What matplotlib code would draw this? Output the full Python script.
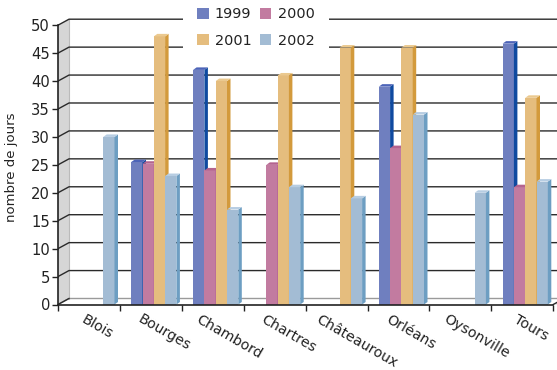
import numpy as np
import matplotlib
matplotlib.use('Agg')
import matplotlib.pyplot as plt
import matplotlib.transforms as mtransforms
from matplotlib.patches import Polygon, Patch

villes = ['Blois', 'Bourges', 'Chambord', 'Chartres', 'Châteauroux',
          'Orléans', 'Oysonville', 'Tours']
annees = ['1999', '2000', '2001', '2002']
v1999 = [np.nan, 25.5, 42, np.nan, np.nan, 39, np.nan, 46.7]
v2000 = [np.nan, 25.2, 24, 25, np.nan, 28, np.nan, 21]
v2001 = [np.nan, 48, 40, 41, 46, 46, np.nan, 37]
v2002 = [30, 23, 17, 21, 19, 34, 20, 22]
series = [v1999, v2000, v2001, v2002]

# front, side, top colours per year
front = ['#6f7fbf', '#c27ba0', '#e5bd7e', '#a3bcd4']
side = ['#0f4aa0', '#a9558a', '#d39a3c', '#6d9ec2']
top = ['#4d64b8', '#b4648f', '#ebc98f', '#b7cde2']
txt = '#222222'

W, H = 557, 370
fig = plt.figure(figsize=(W / 100, H / 100), dpi=100)
x0px, y0px = 58, 304.5
XPX, YPX = 61.9, 5.586  # pixels per category / per day
ax = fig.add_axes([x0px / W, (H - y0px) / H, (W - x0px) / W, y0px / H])
xmax = (W - x0px) / XPX
ax.set_xlim(0, xmax)
ax.set_ylim(0, y0px / YPX)
n = len(villes)

# pseudo 3d walls
wx, wy = 11 / XPX, 6 / YPX
ax.add_patch(Polygon([(0, 0), (wx, wy), (wx, 50 + wy), (0, 50)],
                     closed=True, facecolor='#d6d6d6', edgecolor='none', zorder=0.5))
ax.add_patch(Polygon([(0, 0), (n, 0), (n + wx, wy), (xmax + 1, wy), (xmax + 1, 0)],
                     closed=True, facecolor='#d9d9d9', edgecolor='none', zorder=0.5))
ax.plot([wx, wx], [wy, 50 + wy], color='#bbbbbb', lw=0.8, zorder=0.8)
for v in range(0, 51, 5):
    c = '#9a9a9a' if v == 0 else '#2a2a2a'
    ax.plot([0, wx, xmax], [v, v + wy, v + wy], color=c, lw=1.0, zorder=1)
ax.plot([0, wx], [0, wy], color='#2a2a2a', lw=1.0, zorder=1)
ax.plot([n, n + wx], [0, wy], color='#2a2a2a', lw=1.0, zorder=1)

# bars
bw = 11.3 / XPX
bx, by = 3.5 / XPX, 2.5 / YPX
for i in range(n):
    for j, vals in enumerate(series):
        h = vals[i]
        if np.isnan(h):
            continue
        xl = i + bw + j * bw
        xr = xl + bw
        ax.add_patch(Polygon([(xl, 0), (xr, 0), (xr, h), (xl, h)],
                             facecolor=front[j], edgecolor='none', zorder=3))
        ax.add_patch(Polygon([(xr, 0), (xr + bx, by), (xr + bx, h + by), (xr, h)],
                             facecolor=side[j], edgecolor='none', zorder=3))
        ax.add_patch(Polygon([(xl, h), (xr, h), (xr + bx, h + by), (xl + bx, h + by)],
                             facecolor=top[j], edgecolor='none', zorder=3))

# axes
for s in ['top', 'right']:
    ax.spines[s].set_visible(False)
ax.spines['left'].set_bounds(0, 50)
ax.spines['bottom'].set_bounds(0, n)
for s in ['left', 'bottom']:
    ax.spines[s].set_color(txt)
    ax.spines[s].set_linewidth(1.2)
    ax.spines[s].set_zorder(5)
ax.set_yticks(range(0, 51, 5))
ax.set_xticks(range(n + 1))
ax.set_xticklabels([])
ax.tick_params(axis='both', length=4.3, width=1, colors=txt, labelsize=10.6)
ax.tick_params(axis='y', pad=1.5)
ax.set_ylabel('nombre de jours', fontsize=9.5, color=txt)
ax.yaxis.set_label_coords(-40 / (W - x0px), (y0px - 167.5) / y0px)

labels = []
for i, v in enumerate(villes):
    t = ax.text(i + 0.5, 0, v, transform=ax.get_xaxis_transform(), rotation=-30,
                ha='center', va='top', fontsize=10.2, color=txt)
    labels.append(t)

hd = [Patch(facecolor=front[k], edgecolor='none', label=annees[k]) for k in [0, 2, 1, 3]]
fig.legend(handles=hd, loc='upper left', bbox_to_anchor=(183 / W, 1 + 7 / H), ncol=2,
           fontsize=10.4, frameon=True, facecolor='white', edgecolor='none', framealpha=1,
           fancybox=False, borderpad=1.0, borderaxespad=0, handlelength=0.78,
           handleheight=0.78, handletextpad=0.42, columnspacing=0.6, labelspacing=0.85,
           labelcolor=txt)

# shift rotated city names like in the original
fig.canvas.draw()
r = fig.canvas.get_renderer()
for t in labels:
    w = t.get_window_extent(r).width
    t.set_transform(ax.get_xaxis_transform() + mtransforms.Affine2D().translate(0.23 * w, -7.5))

fig.savefig('out.png', dpi=100)
